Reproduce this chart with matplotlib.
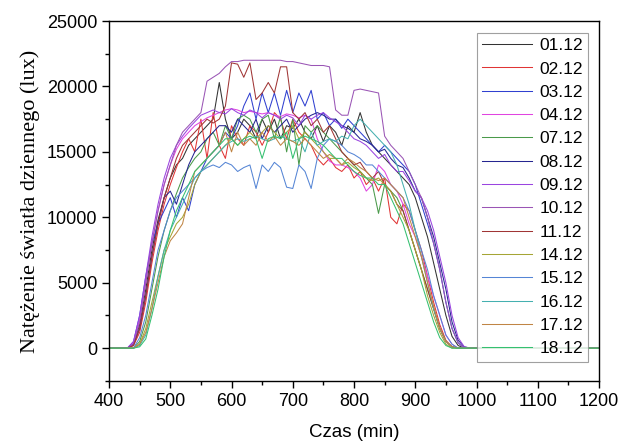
import matplotlib
matplotlib.use("Agg")
import matplotlib.pyplot as plt
from matplotlib.ticker import MultipleLocator

# czas pomiaru (min) - 400, potem co 10 min od 430 do 1000, na koncu 1200
czas = [400] + list(range(430, 1001, 10)) + [1200]

d0112 = [0,
         0, 300, 1800, 4500, 7500, 9800, 11500, 13000, 14000, 14500,
         15500, 16000, 16500, 17000, 17500, 20300, 17500, 16000, 16500, 17500,
         17000, 16000, 17500, 16500, 17500, 16000, 17000, 16800, 17500, 16500,
         16000, 17000, 15800, 17000, 16500, 15500, 17000, 16500, 18000, 16500,
         15500, 15000, 14500, 14000, 13500, 13000, 12500, 11500, 10000, 8500,
         6500, 4500, 2500, 900, 200, 0, 0, 0,
         0]
d0212 = [0,
         0, 200, 1200, 3500, 6500, 9000, 11000, 12500, 13800, 15000,
         16000, 15000, 17500, 14500, 18000, 15500, 14500, 17000, 16000, 15500,
         17000, 16500, 15500, 16500, 18000, 17500, 16000, 17500, 16500, 16000,
         15500, 14500, 14000, 14500, 13800, 13500, 14000, 13000, 13500, 12500,
         13000, 12000, 13000, 10000, 9500, 11000, 10500, 9000, 7500, 5500,
         3500, 1800, 600, 100, 0, 0, 0, 0,
         0]
d0312 = [0,
         0, 500, 2500, 5500, 8000, 9500, 10500, 11500, 10000, 11500,
         10500, 12500, 13500, 14500, 15000, 15500, 16500, 16000, 17000, 18500,
         19500, 17500, 19500, 18000, 19500, 17800, 19700, 18000, 19500, 18500,
         19700, 17500, 18000, 17000, 17500, 16800, 17500, 17000, 16500, 16000,
         15500, 15000, 15500, 15000, 14500, 14000, 13500, 12500, 11000, 9500,
         8000, 6000, 3500, 1500, 400, 0, 0, 0,
         0]
d0412 = [0,
         0, 400, 2200, 5000, 8000, 10500, 12500, 14000, 15200, 16000,
         16500, 17000, 17300, 17600, 17800, 18000, 18200, 18300, 18200, 18000,
         18100, 18000, 17900, 18000, 17800, 17700, 17900, 17800, 17600, 17800,
         17500, 16000, 15000, 14300, 14000, 14000, 13800, 13500, 13000, 12000,
         12500, 14000, 13500, 12500, 12000, 11000, 9500, 8500, 7000, 5500,
         4000, 2500, 1000, 300, 0, 0, 0, 0,
         0]
d0712 = [0,
         0, 0, 500, 2000, 4500, 7000, 9000, 10500, 11800, 13000,
         13800, 14500, 15000, 16000, 16500, 15500, 17000, 16000, 17500, 17800,
         17500, 16500, 17500, 17800, 16000, 17700, 15000, 17500, 14000, 17000,
         16500, 17000, 16500, 16000, 15500, 15000, 14500, 14000, 13500, 13000,
         12500, 10300, 12500, 12000, 11500, 10500, 9000, 7500, 6000, 4500,
         3000, 1500, 500, 100, 0, 0, 0, 0,
         0]
d0812 = [0,
         0, 300, 1500, 4000, 7000, 9500, 11500, 12000, 11000, 12500,
         14000, 15000, 15500, 16000, 16500, 17000, 17000, 16500, 17500, 17000,
         16500, 17500, 16000, 17000, 16500, 17000, 17500, 16500, 17000, 17500,
         17800, 18000, 17800, 17500, 17500, 17000, 16800, 16500, 16000, 15800,
         15500, 15000, 15200, 14500, 14000, 13800, 13000, 12000, 11500, 10000,
         8500, 6500, 4500, 2000, 600, 100, 0, 0,
         0]
d0912 = [0,
         0, 500, 2500, 5500, 8500, 11000, 13000, 14500, 15500, 16200,
         16800, 17300, 17800, 18000, 18200, 18000, 17900, 18300, 18000, 17800,
         18200, 18000, 17600, 18000, 17800, 17500, 17800, 17600, 17000, 17800,
         17500, 17800, 18000, 17600, 17300, 17000, 16500, 16000, 15800, 15500,
         15000, 14500, 14800, 14000, 13500, 13500, 12800, 12000, 11500, 10500,
         9000, 7000, 5000, 2500, 800, 100, 0, 0,
         0]
d1012 = [0,
         0, 300, 2000, 5000, 8000, 10500, 12500, 14000, 15500, 16500,
         17000, 17500, 18000, 20400, 20700, 21000, 21500, 21900, 21900, 22000,
         22000, 22000, 22000, 22000, 22000, 22000, 21900, 21900, 21800, 21700,
         21600, 21600, 21600, 21500, 18200, 17800, 17800, 19700, 19800, 19700,
         19600, 19500, 16200, 15500, 15000, 14500, 13500, 12500, 11500, 10000,
         8000, 6000, 3500, 1500, 400, 0, 0, 0,
         0]
d1112 = [0,
         0, 200, 1500, 4000, 7000, 9500, 11500, 13000, 14500, 15500,
         16000, 16500, 17000, 17500, 17200, 17500, 18500, 21800, 21700, 20700,
         21800, 19000, 19500, 20300, 19500, 21500, 21500, 18000, 17500, 18000,
         17000, 17500, 16500, 17000, 16000, 15000, 14500, 14000, 14200, 13500,
         13000, 13500, 12500, 12000, 11000, 10500, 9000, 7500, 6000, 4500,
         3000, 1500, 500, 100, 0, 0, 0, 0,
         0]
d1412 = [0,
         0, 0, 300, 1500, 3500, 5500, 7500, 8500, 9500, 10000,
         11000, 12500, 13500, 14000, 14500, 15000, 15500, 16000, 15500, 16000,
         16500, 16000, 16500, 17000, 16500, 16000, 16500, 17000, 16000, 16500,
         16000, 15500, 15000, 14500, 14500, 14000, 14200, 13800, 13500, 13000,
         12800, 13000, 12500, 12000, 11000, 10000, 9000, 7500, 6000, 4000,
         2500, 1200, 300, 0, 0, 0, 0, 0,
         0]
d1512 = [0,
         0, 0, 800, 2500, 5000, 7500, 9000, 10500, 11500, 12000,
         12500, 13000, 13500, 13800, 14000, 13800, 14200, 14000, 13500, 13800,
         14000, 12200, 14000, 13500, 14200, 13800, 12300, 12200, 14000, 13500,
         12200, 14500, 15500, 16000, 15800, 15500, 15000, 14800, 14500, 14000,
         14000, 13500, 13000, 12500, 12000, 11500, 10500, 9000, 7500, 6000,
         4000, 2500, 1000, 300, 0, 0, 0, 0,
         0]
d1612 = [0,
         0, 0, 200, 1000, 3000, 5500, 7500, 9000, 10000, 11000,
         12000, 13000, 13500, 14000, 14500, 15000, 15500, 15800, 16000, 15800,
         16000, 16200, 16000, 15800, 16000, 16200, 16000, 15800, 16000, 15000,
         16500, 15500, 15800, 16000, 15800, 16200, 16000, 17000, 17500, 17000,
         16500, 16000, 15500, 15000, 14000, 12500, 11000, 9000, 7000, 5000,
         3000, 1500, 500, 100, 0, 0, 0, 0,
         0]
d1712 = [0,
         0, 0, 300, 1200, 3000, 5000, 7000, 8200, 8800, 9500,
         11500, 13500, 14000, 14500, 15000, 15500, 16500, 15000, 16500, 15500,
         16000, 15500, 16500, 15800, 16200, 15500, 16000, 15800, 15500, 16000,
         15500, 15000, 14500, 14800, 14500, 14000, 14500, 14200, 13800, 13500,
         13000, 12800, 13000, 12500, 12000, 11500, 10000, 8500, 7000, 5000,
         3200, 1500, 500, 100, 0, 0, 0, 0,
         0]
d1812 = [0,
         0, 0, 100, 700, 2500, 4500, 7000, 9000, 10500, 11500,
         12500, 13500, 14000, 14500, 15000, 15500, 16000, 16000, 15500, 16000,
         16200, 16000, 14500, 16000, 16200, 16000, 16500, 14500, 16000, 16200,
         16000, 15800, 15500, 15000, 14500, 14500, 14000, 13500, 13200, 13000,
         13000, 12500, 12500, 11500, 10500, 9500, 8000, 6500, 5000, 3500,
         2000, 800, 200, 0, 0, 0, 0, 0,
         0]

dni = ["01.12", "02.12", "03.12", "04.12", "07.12", "08.12", "09.12",
       "10.12", "11.12", "14.12", "15.12", "16.12", "17.12", "18.12"]
serie = [d0112, d0212, d0312, d0412, d0712, d0812, d0912,
         d1012, d1112, d1412, d1512, d1612, d1712, d1812]
kolory = ["#333333", "#e03535", "#3040d0", "#e045e0", "#4a9a4a", "#252590", "#9a45e0",
          "#9a55b5", "#a03535", "#a5a535", "#5585d5", "#45b0b0", "#c08545", "#35c070"]

plt.rcParams['font.family'] = ['Liberation Sans', 'DejaVu Sans']

fig = plt.figure(figsize=(6.23, 4.47), dpi=100)
ax = fig.add_axes([0.175, 0.148, 0.7865, 0.805])

for etykieta, y, kol in zip(dni, serie, kolory):
    ax.plot(czas, y, color=kol, lw=0.75, label=etykieta)

ax.set_xlim(400, 1200)
ax.set_ylim(-2500, 25000)
ax.xaxis.set_major_locator(MultipleLocator(100))
ax.xaxis.set_minor_locator(MultipleLocator(50))
ax.yaxis.set_major_locator(MultipleLocator(5000))
ax.yaxis.set_minor_locator(MultipleLocator(2500))
ax.tick_params(which='both', direction='out', top=False, right=False, labelsize=13)
ax.tick_params(which='major', length=5, width=1)
ax.tick_params(which='minor', length=3, width=1)
for s in ax.spines.values():
    s.set_linewidth(1.0)

ax.set_xlabel("Czas (min)", fontsize=13.5, labelpad=10)
ax.set_ylabel("Natężenie światła dziennego (lux)", fontsize=16,
              family=['Liberation Serif', 'DejaVu Serif'], labelpad=5)

leg = ax.legend(loc='upper right', bbox_to_anchor=(0.978, 0.967), borderaxespad=0,
                fontsize=12.5, frameon=True, fancybox=False, labelspacing=0.47,
                handlelength=2.9, handletextpad=0.4, borderpad=0.3)
leg.get_frame().set_edgecolor('#888888')
leg.get_frame().set_linewidth(0.8)

fig.savefig("out.png", dpi=100)
